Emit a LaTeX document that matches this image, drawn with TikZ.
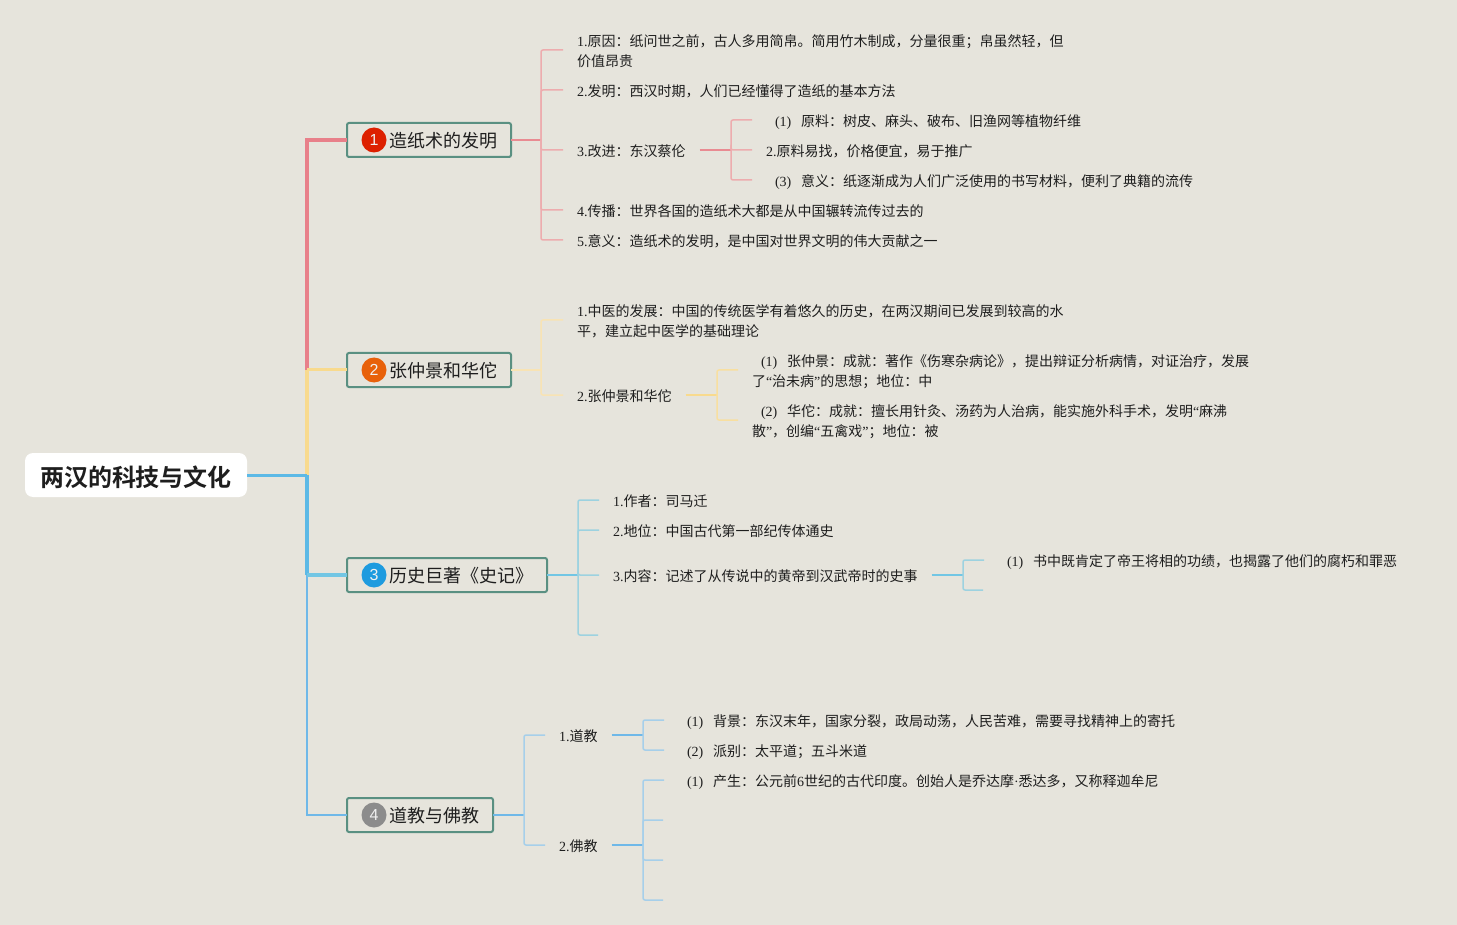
\documentclass[tikz,border=0pt]{standalone}
\usepackage{fontspec}
\setmainfont{Noto Sans CJK SC}[BoldFont={Noto Sans CJK SC Bold}]
\newfontfamily\lat{Liberation Serif}
\newfontfamily\iconfont{Liberation Sans}
\newcommand\la[1]{{\lat #1}}
\newcommand\pn[1]{\hspace*{9pt}{\lat(#1)}\hspace{9.7pt}}
\newcommand\leafstrut{\rule[-3pt]{0pt}{19pt}}
\newcommand\topictext[1]{\raisebox{-7.8pt}[0pt][0pt]{\hspace{28pt}#1}}
\definecolor{bg}{HTML}{E6E4DC}
\definecolor{ink}{HTML}{1E1E1E}
\definecolor{boxline}{HTML}{5A9082}
\definecolor{redmain}{HTML}{E8808A}
\definecolor{redstem}{HTML}{E98B92}
\definecolor{redthin}{HTML}{EDACAE}
\definecolor{yelmain}{HTML}{F8DA8E}
\definecolor{yelthin}{HTML}{F8E3B4}
\definecolor{yelmid}{HTML}{F8DFA0}
\definecolor{bluemain}{HTML}{5CB9E6}
\definecolor{cyanmain}{HTML}{72C6E4}
\definecolor{cyanthin}{HTML}{9DD2E0}
\definecolor{bluefour}{HTML}{6FB8E8}
\definecolor{bluethin}{HTML}{A6CFEA}
\definecolor{iconred}{HTML}{DD2000}
\definecolor{iconorange}{HTML}{E8610A}
\definecolor{iconblue}{HTML}{1E9BDF}
\definecolor{icongray}{HTML}{8C8C8C}
\tikzset{
  x=1pt,y=-1pt,
  rootbox/.style={draw=none,fill=white,rounded corners=8pt,minimum width=222pt,minimum height=44pt,inner sep=0pt,outer sep=0pt,text=ink,font=\fontsize{24}{28}\selectfont\bfseries},
  topicbox/.style={draw=boxline,line width=2pt,rounded corners=2pt,minimum height=34pt,inner sep=0pt,outer sep=0pt,anchor=west,align=left,text=ink,font=\fontsize{18}{22}\selectfont},
  icon/.style={circle,minimum size=25pt,inner sep=0pt,text=white!88!gray,font=\fontsize{16}{16}\selectfont\iconfont},
  leaf/.style={anchor=west,align=left,inner xsep=14pt,inner ysep=0pt,outer sep=0pt,text=ink,font=\fontsize{14}{20}\selectfont,
    execute at begin node=\leafstrut,execute at end node=\leafstrut},
  branch/.style={rounded corners=2pt,line width=1.5pt},
  stem/.style={line width=1.8pt},
}
\begin{document}
\begin{tikzpicture}
\useasboundingbox (0,0) rectangle (1457,925);
\fill[bg] (0,0) rectangle (1457,925);

% main trunk
\coordinate (j1) at (307,140);
\coordinate (j2) at (307,370);
\coordinate (j0) at (307,475);
\coordinate (j3) at (307,575);
\coordinate (j4) at (307,815);

\node[rootbox] (root) at (136,475) {\raisebox{-11pt}[0pt][0pt]{两汉的科技与文化}};
\node[topicbox,minimum width=164pt] (t1) at (347,140) {\topictext{造纸术的发明}};
\node[topicbox,minimum width=164pt] (t2) at (347,370) {\topictext{张仲景和华佗}};
\node[topicbox,minimum width=200pt] (t3) at (347,575) {\topictext{历史巨著《史记》}};
\node[topicbox,minimum width=146pt] (t4) at (347,815) {\topictext{道教与佛教}};
\node[icon,fill=iconred] (i1) at (374,140) {1};
\node[icon,fill=iconorange] (i2) at (374,370) {2};
\node[icon,fill=iconblue] (i3) at (374,575) {3};
\node[icon,fill=icongray] (i4) at (374,815) {4};

\draw[line width=2pt,bluefour] (j3) -- (j4) -- (t4.west);
\draw[line width=4pt,redmain] (j2) -- (j1) -- (t1.west);
\draw[line width=3.5pt,yelmain] (j0) -- (j2);
\draw[line width=3pt,yelmain] (j2) -- (t2.west);
\draw[line width=3.5pt,bluemain] (j3) -- (j0);
\draw[line width=3pt,bluemain] (root.east) -- (j0);
\draw[line width=4pt,cyanmain] (j3) -- (t3.west);

% topic 1
\node[leaf] (a1) at (563,52) {\la{1.}原因：纸问世之前，古人多用简帛。简用竹木制成，分量很重；帛虽然轻，但\\价值昂贵};
\node[leaf] (a2) at (563,90) {\la{2.}发明：西汉时期，人们已经懂得了造纸的基本方法};
\node[leaf] (a3) at (563,150) {\la{3.}改进：东汉蔡伦};
\node[leaf] (a4) at (563,210) {\la{4.}传播：世界各国的造纸术大都是从中国辗转流传过去的};
\node[leaf] (a5) at (563,240) {\la{5.}意义：造纸术的发明，是中国对世界文明的伟大贡献之一};
\node[leaf] (a31) at (752,120) {\pn{1}原料：树皮、麻头、破布、旧渔网等植物纤维};
\node[leaf] (a32) at (752,150) {\la{2.}原料易找，价格便宜，易于推广};
\node[leaf] (a33) at (752,180) {\pn{3}意义：纸逐渐成为人们广泛使用的书写材料，便利了典籍的流传};
\coordinate (ba) at (541,140);
\coordinate (ba3) at (731,150);
\draw[stem,redstem] (t1.east) -- (ba);
\draw[branch,redthin] (ba) |- ([yshift=2pt]a1.west);
\foreach \n in {a2,a3,a4,a5} \draw[branch,redthin] (ba) |- (\n.west);
\draw[stem,redstem] (a3.east) -- (ba3);
\foreach \n in {a31,a32,a33} \draw[branch,redthin] (ba3) |- (\n.west);

% topic 2
\node[leaf] (b1) at (563,322) {\la{1.}中医的发展：中国的传统医学有着悠久的历史，在两汉期间已发展到较高的水\\平，建立起中医学的基础理论};
\node[leaf] (b2) at (563,395) {\la{2.}张仲景和华佗};
\node[leaf] (b21) at (738,372) {\pn{1}张仲景：成就：著作《伤寒杂病论》，提出辩证分析病情，对证治疗，发展\\了\la{“}治未病\la{”}的思想；地位：中};
\node[leaf] (b22) at (738,422) {\pn{2}华佗：成就：擅长用针灸、汤药为人治病，能实施外科手术，发明\la{“}麻沸\\散\la{”}，创编\la{“}五禽戏\la{”}；地位：被};
\coordinate (bb) at (541,370);
\coordinate (bb2) at (717,395);
\draw[stem,yelthin] (t2.east) -- (bb);
\draw[branch,yelthin] (bb) |- ([yshift=2pt]b1.west);
\draw[branch,yelthin] (bb) |- (b2.west);
\draw[stem,yelmain] (b2.east) -- (bb2);
\foreach \n in {b21,b22} \draw[branch,yelmid] (bb2) |- ([yshift=2pt]\n.west);

% topic 3
\node[leaf] (c1) at (599,500) {\la{1.}作者：司马迁};
\node[leaf] (c2) at (599,530) {\la{2.}地位：中国古代第一部纪传体通史};
\node[leaf] (c3) at (599,575) {\la{3.}内容：记述了从传说中的黄帝到汉武帝时的史事};
\coordinate (c4) at (598,635);
\node[leaf] (c31) at (984,560) {\pn{1}书中既肯定了帝王将相的功绩，也揭露了他们的腐朽和罪恶};
\coordinate (c32) at (983,590);
\coordinate (bc) at (578,575);
\coordinate (bc3) at (963,575);
\draw[stem,cyanmain] (t3.east) -- (bc);
\foreach \n in {c1.west,c2.west,c3.west,c4} \draw[branch,cyanthin] (bc) |- (\n);
\draw[stem,cyanmain] (c3.east) -- (bc3);
\foreach \n in {c31.west,c32} \draw[branch,cyanthin] (bc3) |- (\n);

% topic 4
\node[leaf] (d1) at (545,735) {\la{1.}道教};
\node[leaf] (d2) at (545,845) {\la{2.}佛教};
\node[leaf] (d11) at (664,720) {\pn{1}背景：东汉末年，国家分裂，政局动荡，人民苦难，需要寻找精神上的寄托};
\node[leaf] (d12) at (664,750) {\pn{2}派别：太平道；五斗米道};
\node[leaf] (d21) at (664,780) {\pn{1}产生：公元前\la{6}世纪的古代印度。创始人是乔达摩\la{·}悉达多，又称释迦牟尼};
\coordinate (d22) at (663,820);
\coordinate (d23) at (663,860);
\coordinate (d24) at (663,900);
\coordinate (bd) at (524,815);
\coordinate (bd1) at (643,735);
\coordinate (bd2) at (643,845);
\draw[stem,bluefour] (t4.east) -- (bd);
\foreach \n in {d1,d2} \draw[branch,bluethin] (bd) |- (\n.west);
\draw[stem,bluefour] (d1.east) -- (bd1);
\draw[stem,bluefour] (d2.east) -- (bd2);
\foreach \n in {d11,d12} \draw[branch,bluethin] (bd1) |- (\n.west);
\foreach \n in {d21.west,d22,d23,d24} \draw[branch,bluethin] (bd2) |- (\n);
\end{tikzpicture}
\end{document}
